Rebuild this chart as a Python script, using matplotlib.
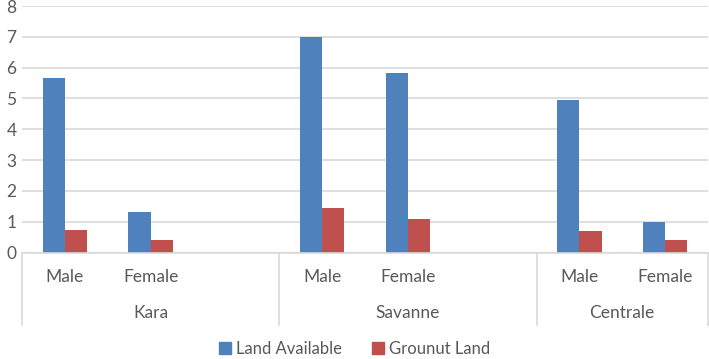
import numpy as np
import matplotlib.pyplot as plt
from matplotlib.patches import Patch

# Data (blank rows in the sheet leave empty slots between regions)
sub_labels = ['Male', 'Female', '', 'Male', 'Female', '', 'Male', 'Female']
group_labels = ['Kara', 'Kara', 'Kara', 'Savanne', 'Savanne', 'Savanne', 'Centrale', 'Centrale']
land_available = [5.67, 1.30, np.nan, 6.99, 5.82, np.nan, 4.96, 1.00]
groundnut_land = [0.72, 0.40, np.nan, 1.43, 1.10, np.nan, 0.70, 0.42]
y_ticks = [0, 1, 2, 3, 4, 5, 6, 7, 8]

blue = '#4F81BD'
red = '#C0504D'
grey_text = '#595959'
grid_col = '#D9D9D9'

plt.rcParams['font.family'] = ['Lato', 'DejaVu Sans']

fig = plt.figure(figsize=(7.09, 3.59), dpi=100)
ax = fig.add_axes([22 / 709, 1 - 252.5 / 359, 686 / 709, 246.5 / 359])

x = np.arange(len(sub_labels))
w = 0.26
ax.bar(x - w / 2, land_available, w, color=blue, label='Land Available')
ax.bar(x + w / 2, groundnut_land, w, color=red, label='Grounut Land')

ax.set_xlim(-0.5, len(sub_labels) - 0.5)
ax.set_ylim(0, 8)
ax.set_yticks(y_ticks)
ax.yaxis.grid(True, color=grid_col, linewidth=1.2)
ax.set_axisbelow(True)
for s in ['top', 'right', 'left']:
    ax.spines[s].set_visible(False)
ax.spines['bottom'].set_color(grid_col)
ax.spines['bottom'].set_linewidth(1.2)
ax.tick_params(axis='y', length=0, pad=4, labelsize=12.5, labelcolor=grey_text)
ax.tick_params(axis='x', length=0)
ax.set_xticks([])

# two-level category axis
trans = ax.get_xaxis_transform()
for xi, lab in zip(x, sub_labels):
    if lab:
        ax.text(xi, -0.098, lab, transform=trans, ha='center', va='center',
                fontsize=12.5, color=grey_text)

groups = []
for i, g in enumerate(group_labels):
    if not groups or groups[-1][0] != g:
        groups.append([g, i, i])
    else:
        groups[-1][2] = i

for g, start, end in groups:
    ax.text((start + end) / 2, -0.245, g, transform=trans, ha='center', va='center',
            fontsize=12.5, color=grey_text)
    ax.plot([start - 0.5, start - 0.5], [0, -0.294], transform=trans, color=grid_col,
            linewidth=1.2, clip_on=False)
ax.plot([len(sub_labels) - 0.5] * 2, [0, -0.294], transform=trans, color=grid_col,
        linewidth=1.2, clip_on=False)

handles = [Patch(color=blue, label='Land Available'), Patch(color=red, label='Grounut Land')]
fig.legend(handles=handles, loc='center', bbox_to_anchor=(0.5, 1 - 349 / 359), ncol=2,
           frameon=False, fontsize=12, labelcolor=grey_text, handlelength=0.7,
           handleheight=0.7, handletextpad=0.3, columnspacing=1.8,
           borderpad=0.1, borderaxespad=0)

plt.savefig('out.png', dpi=100)
